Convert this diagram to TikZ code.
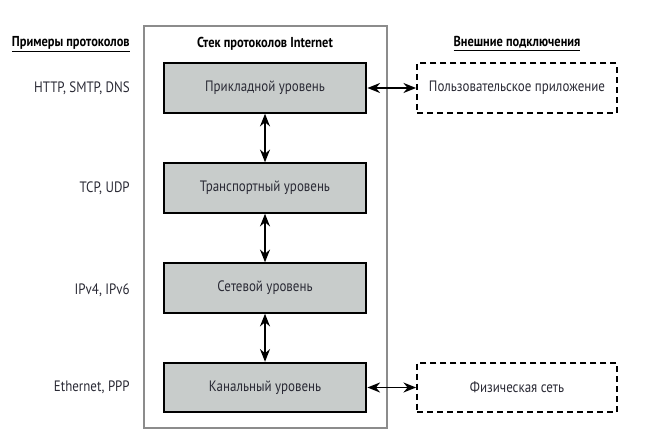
\documentclass[tikz,border=0pt]{standalone}
\usepackage{fontspec}
\setmainfont[FakeStretch=0.86]{PT Sans}
\usepackage{tikz}
\usetikzlibrary{arrows.meta}
\definecolor{layergray}{HTML}{C8CCCB}
\definecolor{framegray}{HTML}{8C8C8C}
\definecolor{labeltext}{HTML}{2A2A35}

\begin{document}
\begin{tikzpicture}[x=0.75pt,y=-0.75pt,
    font=\fontsize{11.3}{13}\selectfont,
    layer/.style={draw=black,line width=1.6pt,fill=layergray,text=labeltext,minimum width=152pt,minimum height=37pt,inner sep=0pt},
    extbox/.style={draw=black,line width=1.3pt,dash pattern=on 4.5pt off 3pt,fill=white,text=labeltext,minimum width=150pt,minimum height=37pt,inner sep=0pt},
    proto/.style={anchor=east,inner sep=0pt,text=labeltext},
    head/.style={font=\fontsize{10.8}{12}\selectfont\bfseries},
    link/.style={{Stealth[length=9.5pt,width=7.5pt]}-{Stealth[length=9.5pt,width=7.5pt]},line width=1.3pt}]
    \useasboundingbox (0,0) rectangle (652,442);
    % Stack frame
    \draw[framegray,line width=1.5pt,fill=white] (144,26) rectangle (387,428);
    \node[head] (stacktitle) at (265,44) {Стек протоколов Internet};
    % Layers
    \node[layer] (app) at (265,88) {Прикладной уровень};
    \node[layer] (trans) at (265,188) {Транспортный уровень};
    \node[layer] (net) at (265,288) {Сетевой уровень};
    \node[layer] (link) at (265,387.5) {Канальный уровень};
    \draw[link] (app) -- (trans);
    \draw[link] (trans) -- (net);
    \draw[link] (net) -- (link);
    % Protocol examples
    \node[head,anchor=east,inner sep=0pt] (protohead) at (130,44) {\underline{Примеры протоколов}};
    \node[proto] (appproto) at (130,88) {HTTP, SMTP, DNS};
    \node[proto] (transproto) at (130,188) {TCP, UDP};
    \node[proto] (netproto) at (130,290) {IPv4, IPv6};
    \node[proto] (linkproto) at (130,387.5) {Ethernet, PPP};
    % External connections
    \node[head] (exthead) at (517,44) {\underline{Внешние подключения}};
    \node[extbox] (userapp) at (517,88) {Пользовательское приложение};
    \node[extbox] (physnet) at (517,387.5) {Физическая сеть};
    \draw[link] (app) -- (userapp);
    \draw[link] (link) -- (physnet);
\end{tikzpicture}
\end{document}
